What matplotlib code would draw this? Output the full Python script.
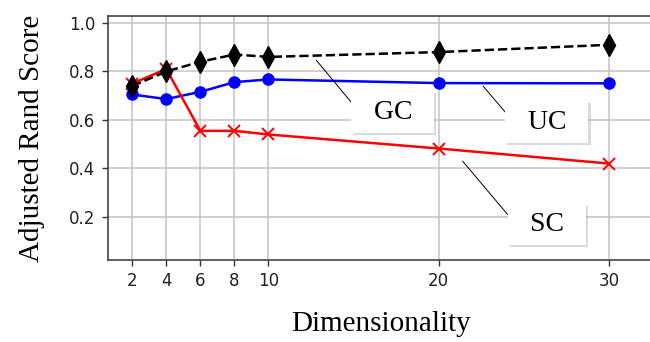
import matplotlib
matplotlib.use("Agg")
import matplotlib.pyplot as plt
import matplotlib.patheffects as pe

# --- data ---
dims = [2, 4, 6, 8, 10, 20, 30]
uc_scores = [0.705, 0.686, 0.716, 0.756, 0.767, 0.752, 0.751]
sc_scores = [0.750, 0.810, 0.555, 0.555, 0.540, 0.482, 0.420]
gc_scores = [0.740, 0.800, 0.840, 0.870, 0.860, 0.880, 0.910]
x_ticks = [2, 4, 6, 8, 10, 20, 30]
y_ticks = [0.2, 0.4, 0.6, 0.8, 1.0]

serif = ['Liberation Serif', 'DejaVu Serif']

fig = plt.figure(figsize=(6.5, 3.42), dpi=100)
ax = fig.add_axes([0.166, 0.2398, 0.8415, 0.7135])

ax.plot(dims, uc_scores, color='blue', marker='o', ms=8, lw=1.8, zorder=3)
ax.plot(dims, sc_scores, color='red', marker='x', ms=8, mew=1.4, lw=1.8, zorder=4)
ax.plot(dims, gc_scores, color='black', marker='d', ms=11, lw=1.8, ls='--', zorder=5)

ax.set_xlim(0.57, 32.69)
ax.set_ylim(0.022, 1.029)
ax.set_xticks(x_ticks)
ax.set_yticks(y_ticks)
ax.grid(True, color='#c4c4c4', lw=1.1)
ax.set_axisbelow(True)
ax.tick_params(labelsize=12, length=4, width=1, pad=5, colors='#333333', labelcolor='#222222')
for s in ax.spines.values():
    s.set_color('#444444')
    s.set_linewidth(1.2)

ax.set_ylabel('Adjusted Rand Score', family=serif, fontsize=21, labelpad=17)
ax.set_xlabel('Dimensionality', family=serif, fontsize=21, labelpad=15)

# --- callout labels with shadowed boxes ---
def callout(label, xy, xytext):
    t = ax.annotate('  ' + label + '  ', xy=xy, xytext=xytext, textcoords='data',
                    ha='center', va='center', family=serif, fontsize=20, zorder=6,
                    bbox=dict(boxstyle='square,pad=0.3', fc='white', ec='none'),
                    arrowprops=dict(arrowstyle='-', color='black', lw=0.7,
                                    relpos=(0, 0.5), shrinkA=0, shrinkB=0))
    t.get_bbox_patch().set_path_effects([
        pe.withSimplePatchShadow(offset=(1.5, -1.5), shadow_rgbFace='#b0b0b0', alpha=0.45),
        pe.Normal()])

callout('GC', (12.8, 0.847), (17.3, 0.632))
callout('UC', (22.6, 0.740), (26.35, 0.591))
callout('SC', (21.4, 0.430), (26.35, 0.169))

fig.savefig('out.png', dpi=100)
